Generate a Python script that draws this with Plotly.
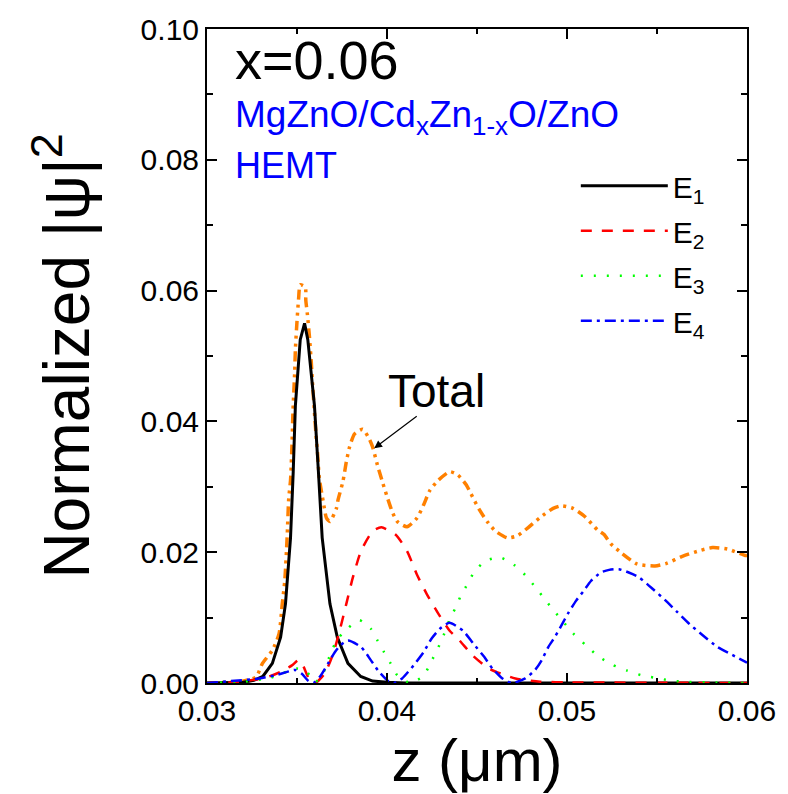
import plotly.graph_objects as go

# ---------------- data ----------------
z_e1 = [0.0300, 0.0310, 0.0320, 0.0326, 0.0331, 0.03363, 0.03409, 0.03436, 0.03464, 0.03479,
        0.03491, 0.03518, 0.03542, 0.0356, 0.03597, 0.03619, 0.0364, 0.03683, 0.03724, 0.03783,
        0.03854, 0.0392, 0.0400, 0.0410, 0.0600]
v_e1 = [0.0, 0.0, 0.0001, 0.0004, 0.0010, 0.0030, 0.0070, 0.0121, 0.0222, 0.0323,
        0.0424, 0.0525, 0.0550, 0.0525, 0.0424, 0.0323, 0.0222, 0.0121, 0.0070, 0.0030,
        0.0010, 0.0003, 0.0001, 0.0, 0.0]

z_e2 = [0.0300, 0.0315, 0.03263, 0.03345, 0.03409, 0.03472, 0.03509, 0.03536, 0.03564, 0.0360,
        0.03655, 0.03701, 0.03737, 0.03774, 0.0381, 0.03856, 0.0392, 0.03969, 0.04047, 0.04111,
        0.04166, 0.04221, 0.04285, 0.04348, 0.04403, 0.04476, 0.04567, 0.04713, 0.0485, 0.0500,
        0.0600]
v_e2 = [0.0, 0.0001, 0.0005, 0.0010, 0.0017, 0.0027, 0.0035, 0.0025, 0.0008, 0.0,
        0.0015, 0.0045, 0.0080, 0.0121, 0.0161, 0.0202, 0.0232, 0.0238, 0.0227, 0.0202,
        0.0166, 0.0136, 0.0106, 0.0080, 0.0065, 0.0042, 0.0022, 0.0007, 0.0002, 0.0001,
        0.0]

z_e3 = [0.0300, 0.0320, 0.0335, 0.0345, 0.0350, 0.0355, 0.0358, 0.0360, 0.0364, 0.0368,
        0.0372, 0.03779, 0.03847, 0.0391, 0.03947, 0.03984, 0.0402, 0.04057, 0.0413, 0.04203,
        0.04239, 0.04303, 0.04352, 0.04385, 0.04412, 0.04449, 0.04485, 0.04549, 0.04628, 0.04704,
        0.04768, 0.04823, 0.04874, 0.04923, 0.04978, 0.05033, 0.0510, 0.05173, 0.05252, 0.05334,
        0.0541, 0.05489, 0.05571, 0.05644, 0.0580, 0.0600]
v_e3 = [0.0, 0.0002, 0.0008, 0.0018, 0.0022, 0.0018, 0.0008, 0.0001, 0.0012, 0.0040,
        0.0065, 0.0083, 0.0096, 0.0083, 0.0065, 0.0047, 0.0030, 0.0012, 0.0, 0.0011,
        0.0029, 0.0065, 0.0100, 0.0117, 0.0135, 0.0152, 0.0170, 0.0187, 0.0192, 0.0181,
        0.0165, 0.0147, 0.0129, 0.0112, 0.0094, 0.0076, 0.0059, 0.0041, 0.0028, 0.0019,
        0.0012, 0.0008, 0.0004, 0.0002, 0.0001, 0.0]

z_e4 = [0.0300, 0.0329, 0.03382, 0.03445, 0.03491, 0.03527, 0.03564, 0.03591, 0.03628, 0.03673,
        0.0371, 0.03743, 0.03783, 0.03856, 0.0391, 0.03956, 0.04011, 0.04039, 0.04084, 0.04148,
        0.04203, 0.04248, 0.04294, 0.04347, 0.04422, 0.0448, 0.0454, 0.04586, 0.04641, 0.04695,
        0.04768, 0.04823, 0.0486, 0.04896, 0.04932, 0.04969, 0.05005, 0.05051, 0.05093, 0.05133,
        0.05188, 0.05234, 0.05288, 0.05343, 0.05398, 0.0548, 0.05544, 0.05607, 0.05681, 0.05754,
        0.05836, 0.05918, 0.0600]
v_e4 = [0.0, 0.0007, 0.0012, 0.0017, 0.0020, 0.0014, 0.0003, 0.0, 0.0010, 0.0030,
        0.0047, 0.0058, 0.0065, 0.0055, 0.0035, 0.0017, 0.0002, 0.0, 0.0007, 0.0027,
        0.0047, 0.0068, 0.0083, 0.0092, 0.0080, 0.0060, 0.0040, 0.0022, 0.0007, 0.0,
        0.0007, 0.0020, 0.0035, 0.0055, 0.0070, 0.0088, 0.0106, 0.0126, 0.0141, 0.0156,
        0.0169, 0.0173, 0.0174, 0.0169, 0.0162, 0.0143, 0.0127, 0.0110, 0.0090, 0.0073,
        0.0055, 0.0043, 0.0031]

z_tot = [0.0300, 0.0310, 0.03181, 0.03272, 0.03308, 0.03363, 0.0340, 0.03418, 0.03432, 0.03445,
         0.03454, 0.03464, 0.03472, 0.03478, 0.03487, 0.03491, 0.0350, 0.03509, 0.03518, 0.03546,
         0.03549, 0.03558, 0.03569, 0.03579, 0.03586, 0.03597, 0.03606, 0.03615, 0.03624, 0.03646,
         0.03664, 0.03683, 0.03719, 0.03728, 0.03755, 0.03774, 0.03792, 0.0382, 0.03865, 0.03902,
         0.0392, 0.03947, 0.03974, 0.03998, 0.04029, 0.04057, 0.04111, 0.04166, 0.04203, 0.04239,
         0.04285, 0.04348, 0.04394, 0.0444, 0.04467, 0.04513, 0.04559, 0.04604, 0.04668, 0.04723,
         0.04786, 0.0485, 0.04923, 0.04969, 0.05033, 0.05097, 0.0517, 0.05206, 0.05243, 0.05306,
         0.05389, 0.05489, 0.05553, 0.05644, 0.05744, 0.05808, 0.0589, 0.0599, 0.0600]
v_tot = [0.0, 0.0001, 0.0002, 0.0009, 0.0030, 0.0050, 0.0075, 0.0121, 0.0156, 0.0222,
         0.0282, 0.0310, 0.0363, 0.0419, 0.0474, 0.0510, 0.0553, 0.0588, 0.0609, 0.0605,
         0.0585, 0.0563, 0.0530, 0.0492, 0.0459, 0.0414, 0.0378, 0.0348, 0.0313, 0.0277,
         0.0252, 0.0247, 0.0267, 0.0280, 0.0308, 0.0338, 0.0361, 0.0381, 0.0388, 0.0373,
         0.0361, 0.0333, 0.0308, 0.0287, 0.0262, 0.0247, 0.0239, 0.0252, 0.0272, 0.0295,
         0.0310, 0.0323, 0.0318, 0.0303, 0.0289, 0.0265, 0.0246, 0.0232, 0.0222, 0.0225,
         0.0238, 0.0253, 0.0267, 0.0271, 0.0267, 0.0255, 0.0234, 0.0227, 0.0213, 0.0198,
         0.0182, 0.0179, 0.0183, 0.0194, 0.0203, 0.0207, 0.0205, 0.0195, 0.0195]

x_ticks = [0.03, 0.04, 0.05, 0.06]
x_tick_labels = ["0.03", "0.04", "0.05", "0.06"]
y_ticks = [0.00, 0.02, 0.04, 0.06, 0.08, 0.10]
y_tick_labels = ["0.00", "0.02", "0.04", "0.06", "0.08", "0.10"]

legend_names = ["E<sub>1</sub>", "E<sub>2</sub>", "E<sub>3</sub>", "E<sub>4</sub>"]
arrow_target = (0.03929, 0.0359)   # point on the Total curve the arrow points at

FONT = "Liberation Sans, Arial, sans-serif"

fig = go.Figure()

fig.add_trace(go.Scatter(x=z_tot, y=v_tot, mode="lines", name="Total", showlegend=False,
                         line=dict(color="#FF8000", width=3.5, dash="10px,5px,3px,5px,3px,5px",
                                   shape="spline", smoothing=0.6)))
fig.add_trace(go.Scatter(x=z_e1, y=v_e1, mode="lines", name=legend_names[0], legendgroup="g1",
                         line=dict(color="black", width=3)))
fig.add_trace(go.Scatter(x=z_e2, y=v_e2, mode="lines", name=legend_names[1], legendgroup="g2",
                         line=dict(color="#FF0000", width=2.5, dash="11px,10px",
                                   shape="spline", smoothing=0.6)))
fig.add_trace(go.Scatter(x=z_e3, y=v_e3, mode="lines", name=legend_names[2], legendgroup="g3",
                         line=dict(color="#00FF00", width=2.5, dash="2px,11px",
                                   shape="spline", smoothing=0.6)))
fig.add_trace(go.Scatter(x=z_e4, y=v_e4, mode="lines", name=legend_names[3], legendgroup="g4",
                         line=dict(color="#0000FF", width=2.5, dash="11px,5px,3px,5px",
                                   shape="spline", smoothing=0.6)))

axis_common = dict(showline=True, linecolor="black", linewidth=2, mirror="allticks",
                   ticks="inside", ticklen=10, tickwidth=1.5, tickcolor="black",
                   showgrid=False, zeroline=False,
                   tickfont=dict(family=FONT, size=30, color="black"))

fig.update_xaxes(range=[0.03, 0.06], tickvals=x_ticks, ticktext=x_tick_labels,
                 minor=dict(dtick=0.005, ticks="inside", ticklen=5, tickwidth=1.5, tickcolor="black"),
                 title=dict(text="z (μm)", font=dict(family=FONT, size=60, color="black"), standoff=8),
                 **axis_common)
fig.update_yaxes(range=[0, 0.1], tickvals=y_ticks, ticktext=y_tick_labels,
                 minor=dict(dtick=0.01, ticks="inside", ticklen=6, tickwidth=1.5, tickcolor="black"),
                 title=dict(text="Normalized |ψ|<sup>2</sup>", font=dict(family=FONT, size=64, color="black"),
                            standoff=30),
                 **axis_common)

fig.add_annotation(text="x=0.06", xref="paper", yref="paper", x=0.049, y=0.953,
                   xanchor="left", yanchor="middle", showarrow=False,
                   font=dict(family=FONT, size=54, color="black"))
fig.add_annotation(text="MgZnO/Cd<sub>x</sub>Zn<sub>1-x</sub>O/ZnO", xref="paper", yref="paper",
                   x=0.049, y=0.865, xanchor="left", yanchor="middle", showarrow=False,
                   font=dict(family=FONT, size=37, color="#0000FF"))
fig.add_annotation(text="HEMT", xref="paper", yref="paper", x=0.049, y=0.792,
                   xanchor="left", yanchor="middle", showarrow=False,
                   font=dict(family=FONT, size=36, color="#0000FF"))
fig.add_annotation(text="Total", xref="paper", yref="paper", x=0.425, y=0.447,
                   xanchor="center", yanchor="middle", showarrow=False,
                   font=dict(family=FONT, size=46, color="black"))
fig.add_annotation(text="", x=arrow_target[0], y=arrow_target[1], xref="x", yref="y",
                   showarrow=True, ax=44, ay=-33, arrowhead=2, arrowsize=1.3,
                   arrowwidth=1.2, arrowcolor="black")

fig.update_layout(
    width=788, height=794,
    margin=dict(l=207, r=33, t=23, b=111),
    plot_bgcolor="white", paper_bgcolor="white",
    font=dict(family=FONT, color="black"),
    showlegend=True,
    legend=dict(x=0.683, y=0.80, xanchor="left", yanchor="top", bgcolor="rgba(0,0,0,0)",
                font=dict(family=FONT, size=30, color="black"), itemwidth=87,
                tracegroupgap=3),
)

fig.write_html("out.html")
